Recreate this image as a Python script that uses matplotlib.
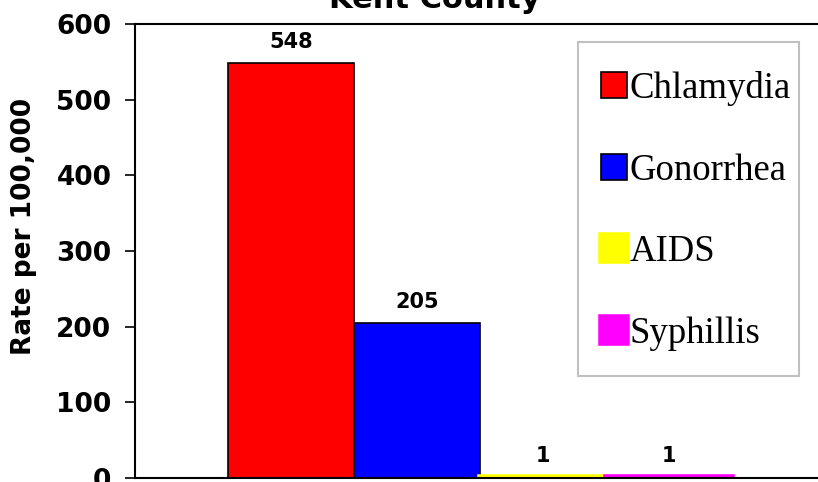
import matplotlib.pyplot as plt
from matplotlib.patches import Rectangle

# STD rates, Kent County
diseases = ['Chlamydia', 'Gonorrhea', 'AIDS', 'Syphillis']
rates = [548, 205, 1, 1]
colors = ['#ff0000', '#0000ff', '#ffff00', '#ff00ff']
y_ticks = [0, 100, 200, 300, 400, 500, 600]

BOLD = 'DejaVu Sans'

fig = plt.figure(figsize=(8.18, 4.82), dpi=100)
W, H = 818.0, 482.0
ax = fig.add_axes([135 / W, (H - 478) / H, (826 - 135) / W, (478 - 24) / H])

positions = [i - (len(rates) - 1) / 2.0 for i in range(len(rates))]
for pos, val, col, name in zip(positions, rates, colors, diseases):
    if val > 10:
        rect = ax.bar(pos, val, width=1.0, color=col, edgecolor='black',
                      linewidth=1.2, label=name)
    else:
        # tiny bars get an edge in their own colour so they stay visible
        rect = ax.bar(pos, val, width=1.0, color=col, edgecolor=col,
                      linewidth=4.0, label=name)
    ax.bar_label(rect, labels=[str(val)], padding=8, fontsize=15,
                 fontweight='bold', family=BOLD)

ax.set_xlim(-(480 - 135) / 126.0, (826 - 480) / 126.0)
ax.set_ylim(0, 600)
ax.set_yticks(y_ticks)
ax.set_yticklabels([str(t) for t in y_ticks], fontsize=19, fontweight='bold',
                   family=BOLD)
ax.set_xticks([])
ax.tick_params(axis='y', direction='out', length=7, width=1.2, pad=10)
for side in ['left', 'bottom', 'top', 'right']:
    ax.spines[side].set_linewidth(1.5)

ax.set_ylabel('Rate per 100,000', fontsize=19, fontweight='bold',
              family=BOLD, labelpad=14, y=0.555)

fig.text(435 / W, 1 - 8 / H, 'Kent County', ha='center', va='baseline',
         fontsize=22, fontweight='bold', family=BOLD)

# legend box drawn separately so its size can be set exactly
box = Rectangle((578 / W, 1 - 376 / H), (799 - 578) / W, (376 - 42) / H,
                transform=fig.transFigure, facecolor='white',
                edgecolor='#c0c0c0', linewidth=1.5, clip_on=False, zorder=4)
ax.add_patch(box)

leg = ax.legend(loc='upper left', bbox_to_anchor=(601 / W, 1 - 71 / H),
                bbox_transform=fig.transFigure, frameon=False,
                prop={'family': 'Liberation Serif', 'size': 26.5},
                handlelength=0.7, handleheight=0.7, handletextpad=0.08,
                labelspacing=1.28, borderpad=0, borderaxespad=0)
leg.set_zorder(5)

fig.savefig('out.png', dpi=100)
